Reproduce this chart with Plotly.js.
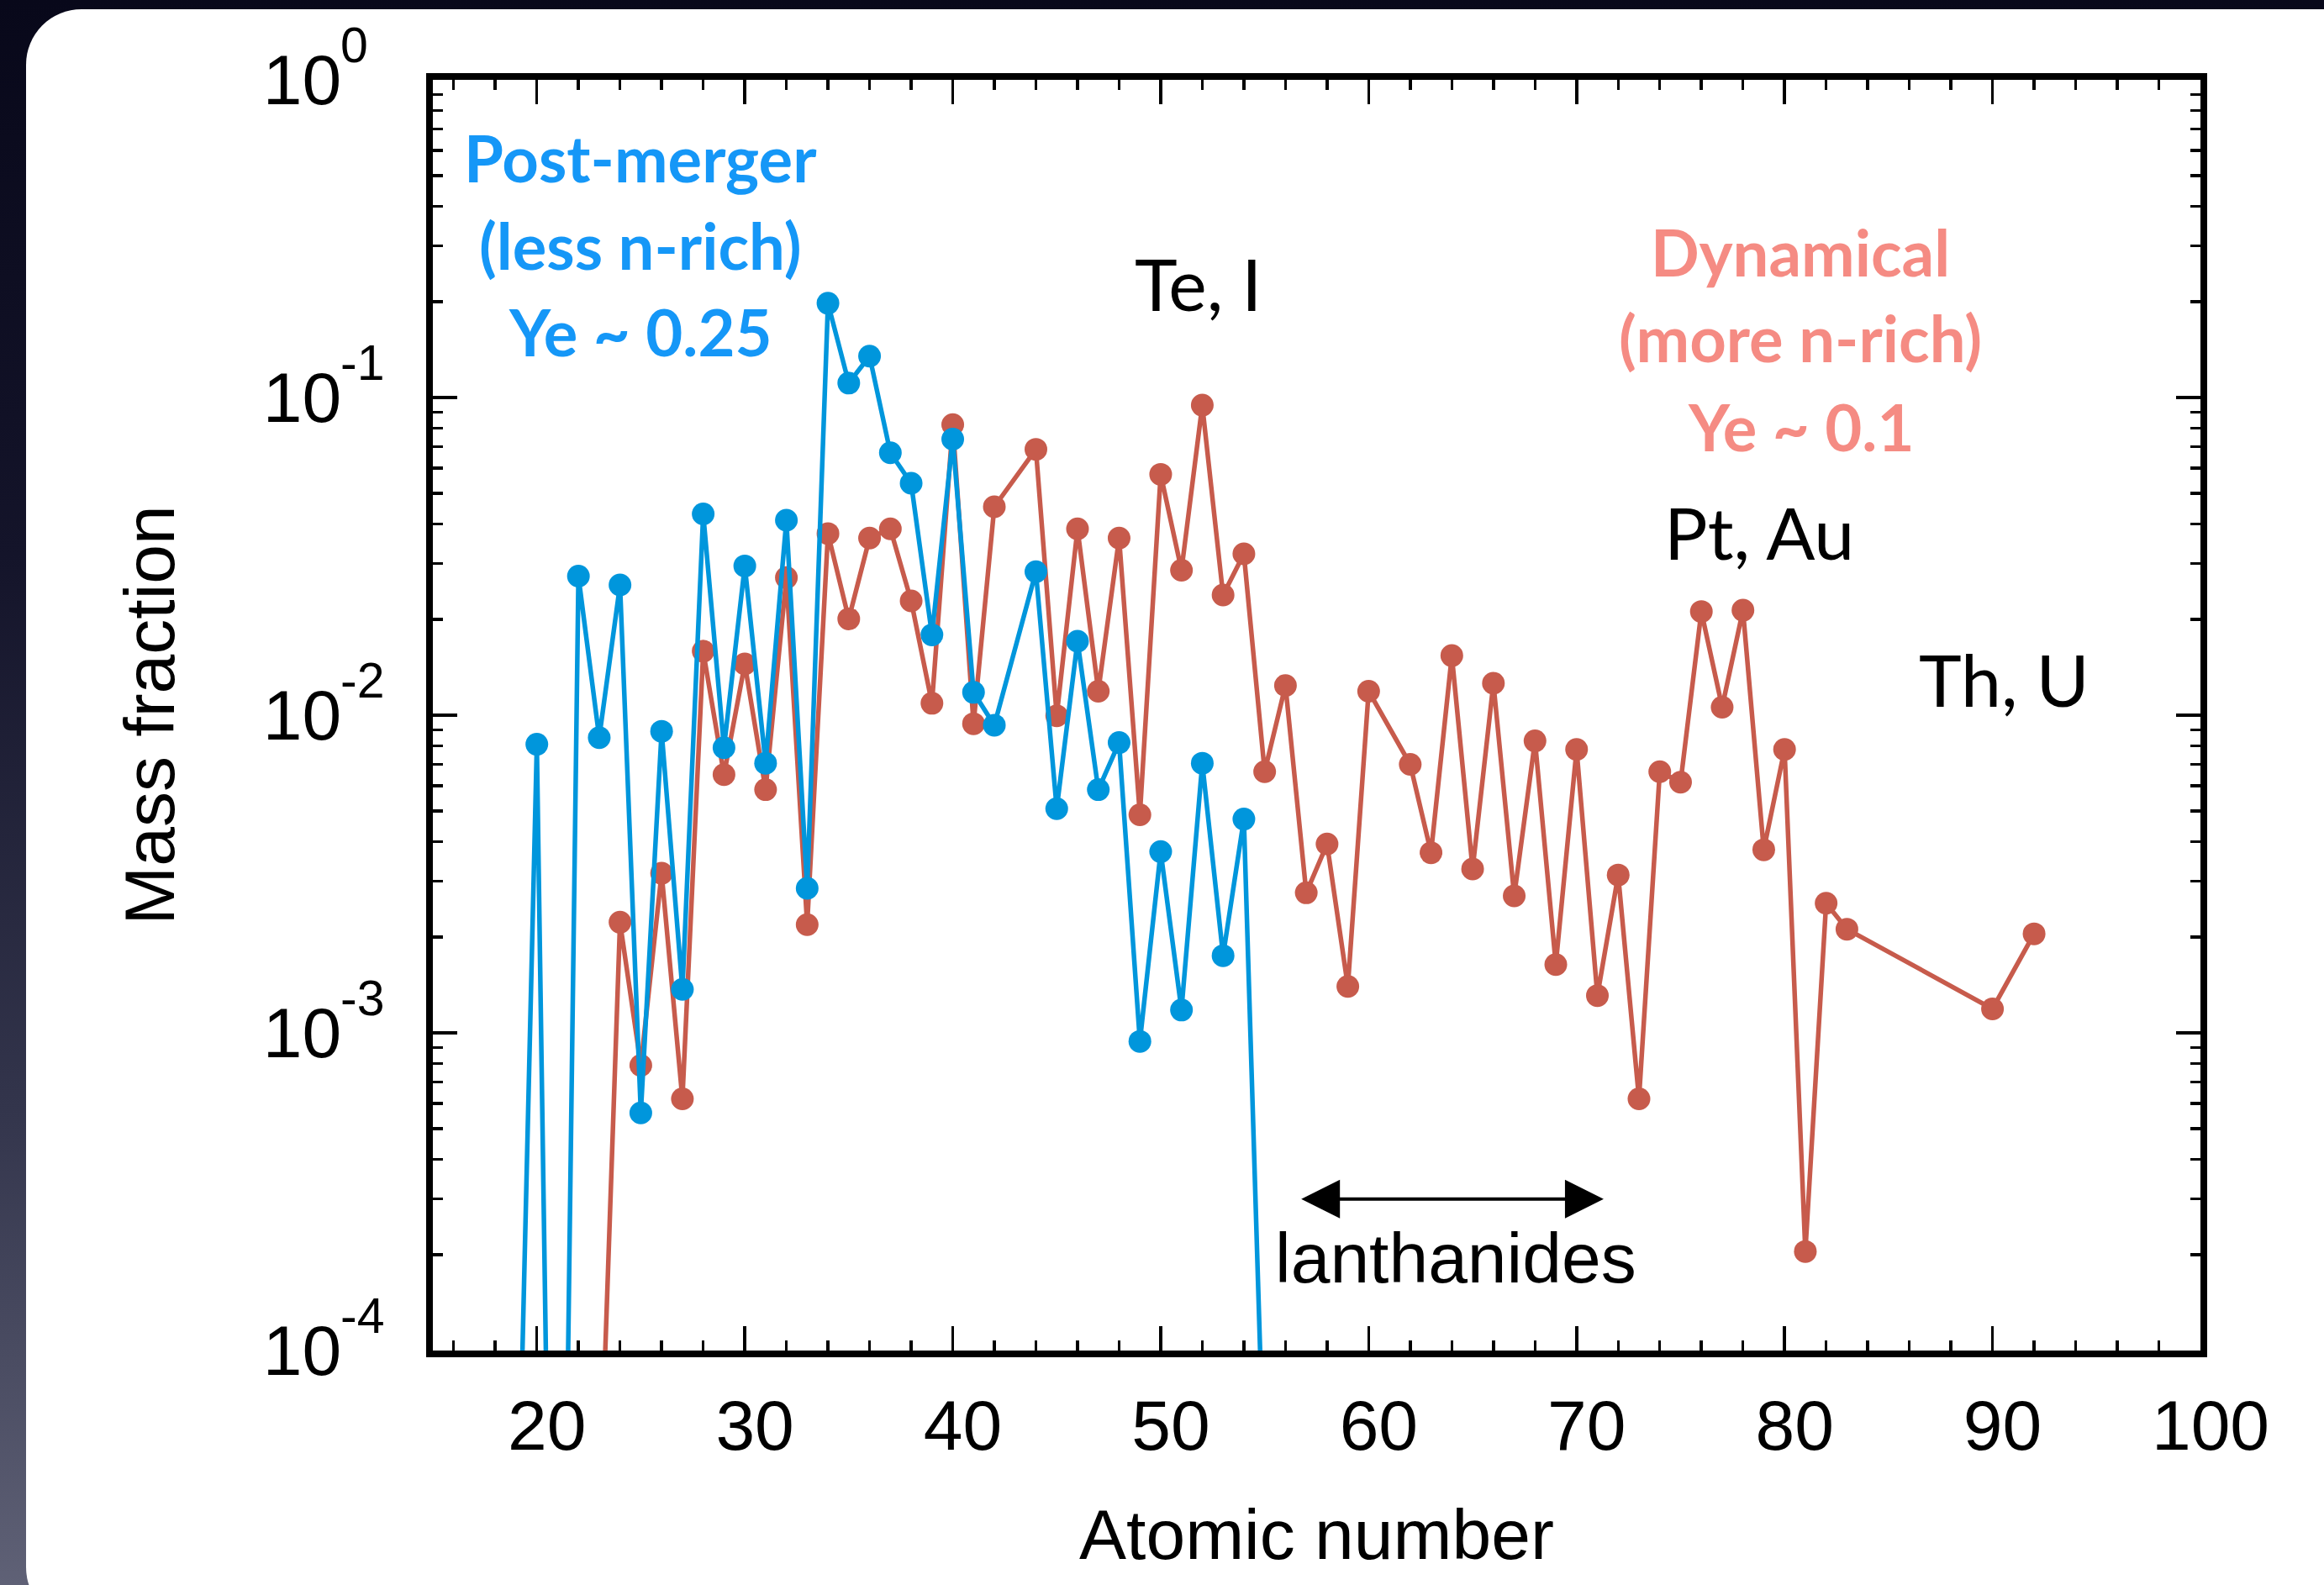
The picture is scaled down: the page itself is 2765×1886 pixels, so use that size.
<!DOCTYPE html>
<html>
<head>
<meta charset="utf-8">
<script src="https://cdn.plot.ly/plotly-3.0.1.min.js"></script>
<style>
  html, body { margin: 0; padding: 0; width: 2765px; height: 1886px; overflow: hidden; }
  body { background: linear-gradient(180deg, #08081a 0%, #14142a 35%, #33354c 70%, #5f6176 100%); position: relative; }
  #panel { position: absolute; left: 31px; top: 11px; width: 2820px; height: 1920px; background: #ffffff; border-radius: 66px; }
  #chart { position: absolute; left: 0; top: 0; width: 2765px; height: 1886px; }
</style>
</head>
<body>
<div id="panel"></div>
<div id="chart"></div>
<script>
// Post-merger (less n-rich) ejecta, Ye ~ 0.25
const zBlue = [19,20,21,22,23,24,25,26,27,28,29,30,31,32,33,34,35,36,37,38,39,40,41,42,44,45,46,47,48,49,50,51,52,53,54,55];
const massBlue = [1.4e-5, 8.1e-3, 3.2e-7, 0.0274, 8.5e-3, 0.0257, 5.6e-4, 8.9e-3, 1.37e-3, 0.043, 7.9e-3, 0.0295, 7.06e-3, 0.0411, 2.85e-3, 0.198, 0.111, 0.135, 0.067, 0.0537, 0.0179, 0.074, 0.0118, 9.3e-3, 0.0283, 5.08e-3, 0.0171, 5.83e-3, 8.2e-3, 9.4e-4, 3.72e-3, 1.18e-3, 7.06e-3, 1.75e-3, 4.71e-3, 3.4e-5];

// Dynamical (more n-rich) ejecta, Ye ~ 0.1
const zRed = [23,24,25,26,27,28,29,30,31,32,33,34,35,36,37,38,39,40,41,42,44,45,46,47,48,49,50,51,52,53,54,55,56,57,58,59,60,62,63,64,65,66,67,68,69,70,71,72,73,74,75,76,77,78,79,80,81,82,83,90,92];
const massRed = [2.8e-5, 2.23e-3, 7.9e-4, 3.18e-3, 6.2e-4, 0.0159, 6.5e-3, 0.0145, 5.83e-3, 0.0271, 2.19e-3, 0.0373, 0.0201, 0.0361, 0.0386, 0.0229, 0.0109, 0.0822, 9.4e-3, 0.0453, 0.0687, 9.96e-3, 0.0386, 0.0119, 0.0361, 4.86e-3, 0.0573, 0.0286, 0.0946, 0.0239, 0.0322, 6.64e-3, 0.0124, 2.76e-3, 3.93e-3, 1.40e-3, 0.0119, 7.0e-3, 3.69e-3, 0.0154, 3.28e-3, 0.0126, 2.70e-3, 8.3e-3, 1.64e-3, 7.8e-3, 1.31e-3, 3.14e-3, 6.2e-4, 6.64e-3, 6.15e-3, 0.0212, 0.0106, 0.0214, 3.77e-3, 7.8e-3, 2.05e-4, 2.56e-3, 2.12e-3, 1.19e-3, 2.05e-3];

const xTickVals = [20,30,40,50,60,70,80,90,100];
const xTickText = ['20','30','40','50','60','70','80','90','100'];
const yTickVals = [1e-4, 1e-3, 1e-2, 1e-1, 1];
const yTickText = ['10','10','10','10','10'];
const yTickExp = ['-4','-3','-2','-1','0'];

const yMinor = [];
for (let d = -4; d < 0; d++) { for (let m = 2; m <= 9; m++) { yMinor.push(m * Math.pow(10, d)); } }

const BLUE = '#0096dc', RED = '#c75b4c';
const BLUE_TXT = '#1597f7', PINK_TXT = '#f58b83';

const traces = [
  { x: zRed, y: massRed, mode: 'lines+markers', name: 'Dynamical',
    line: { color: RED, width: 5.5 }, marker: { color: RED, size: 27 }, cliponaxis: true },
  { x: zBlue, y: massBlue, mode: 'lines+markers', name: 'Post-merger',
    line: { color: BLUE, width: 5.5 }, marker: { color: BLUE, size: 27 }, cliponaxis: true }
];

const axisFont = { family: 'Liberation Sans, Arial, sans-serif', size: 84, color: '#000' };
const supFont = { family: 'Liberation Sans, Arial, sans-serif', size: 59, color: '#000' };
const lab = { family: 'Lato, sans-serif', size: 76, weight: 700 };
const blk = { family: 'Lato, sans-serif', size: 86, color: '#000' };
const ann = (x, y, text, font) => ({ x, y, xref: 'x', yref: 'y', text, showarrow: false, font,
  xanchor: 'center', yanchor: 'middle', align: 'center' });

// exponents of the y tick labels, placed just right of each "10"
const expAnn = yTickVals.map((v, i) => ({
  x: -0.0526, xref: 'paper', y: Math.log10(v), yref: 'y', text: yTickExp[i], showarrow: false,
  font: supFont, xanchor: 'left', yanchor: 'middle', yshift: 41, borderpad: 0
}));

const layout = {
  width: 2765, height: 1886,
  paper_bgcolor: 'rgba(0,0,0,0)', plot_bgcolor: '#ffffff',
  margin: { l: 515, r: 147, t: 95, b: 279, pad: 0 },
  showlegend: false,
  xaxis: {
    type: 'linear', range: [15, 100], tickmode: 'array', tickvals: xTickVals, ticktext: xTickText,
    ticks: 'inside', ticklen: 29, tickwidth: 3.5, tickcolor: '#000',
    showline: true, linewidth: 8, linecolor: '#000', mirror: 'allticks',
    showgrid: false, zeroline: false, tickfont: axisFont, ticklabelstandoff: 9, ticklabelshift: 12,
    minor: { ticks: 'inside', ticklen: 12, tickwidth: 3.5, tickcolor: '#000', dtick: 2, tick0: 0, showgrid: false },
    title: { text: 'Atomic number', font: axisFont, standoff: 57 }, automargin: false
  },
  yaxis: {
    type: 'log', range: [-4, 0], tickmode: 'array', tickvals: yTickVals, ticktext: yTickText,
    ticks: 'inside', ticklen: 29, tickwidth: 3.5, tickcolor: '#000',
    showline: true, linewidth: 8, linecolor: '#000', mirror: 'allticks',
    showgrid: false, zeroline: false, tickfont: axisFont, ticklabelstandoff: 84,
    minor: { ticks: 'inside', ticklen: 12, tickwidth: 3.5, tickcolor: '#000', tickmode: 'array', tickvals: yMinor, showgrid: false },
    title: { text: 'Mass fraction', font: axisFont, standoff: 80 }, automargin: false
  },
  annotations: expAnn.concat([
    ann(25.0, -0.246, 'Post-merger', Object.assign({ color: BLUE_TXT }, lab)),
    ann(25.0, -0.519, '(less n-rich)', Object.assign({ color: BLUE_TXT }, lab)),
    ann(25.0, -0.793, 'Ye ~ 0.25', Object.assign({ color: BLUE_TXT }, lab)),
    ann(80.77, -0.542, 'Dynamical', Object.assign({ color: PINK_TXT }, lab)),
    ann(80.77, -0.811, '(more n-rich)', Object.assign({ color: PINK_TXT }, lab)),
    ann(80.77, -1.090, 'Ye ~ 0.1', Object.assign({ color: PINK_TXT }, lab)),
    ann(51.82, -0.640, 'Te, I', blk),
    ann(78.79, -1.423, 'Pt, Au', blk),
    ann(90.56, -1.886, 'Th, U', blk),
    ann(64.2, -3.708, 'lanthanides', axisFont),
    { x: 71.3, y: -3.523, ax: 56.7, ay: -3.523, xref: 'x', yref: 'y', axref: 'x', ayref: 'y',
      text: '', showarrow: true, arrowhead: 2, startarrowhead: 2, arrowside: 'end+start',
      arrowsize: 2.3, startarrowsize: 2.3, arrowwidth: 4, arrowcolor: '#000', standoff: 0, startstandoff: 0 }
  ])
};

Plotly.newPlot('chart', traces, layout, { staticPlot: true, displayModeBar: false });
</script>
</body>
</html>
